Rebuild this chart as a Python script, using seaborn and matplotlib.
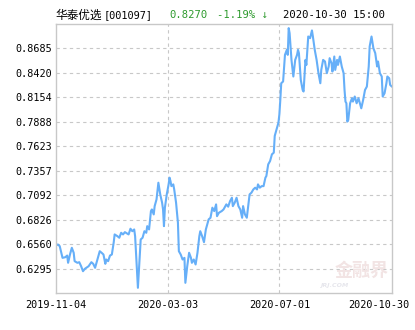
import numpy as np
import pandas as pd
import matplotlib
matplotlib.use("Agg")
import matplotlib.pyplot as plt
import matplotlib.transforms as mtransforms
import seaborn as sns

# ---- data ----
start_date = "2019-11-04"
end_date = "2020-10-30"
days = [0, 2, 4, 7, 10, 12, 13, 15, 17, 19, 20, 23, 25, 27, 29, 31, 35, 38, 40, 42,
        44, 47, 49, 51, 53, 54, 56, 58, 60, 62, 63, 66, 68, 70, 72, 74, 78, 80, 82, 84,
        85, 87, 88, 90, 91, 93, 95, 97, 98, 100, 102, 103, 105, 106, 108, 110, 112, 114, 115, 116,
        117, 119, 121, 122, 123, 124, 126, 127, 129, 131, 132, 134, 136, 138, 139, 141, 143, 145, 146, 148,
        150, 152, 154, 155, 157, 159, 161, 163, 164, 166, 168, 170, 172, 173, 175, 178, 180, 182, 183, 185,
        187, 189, 190, 192, 194, 196, 198, 200, 201, 203, 205, 207, 208, 210, 212, 214, 216, 217, 219, 221,
        223, 225, 226, 228, 230, 232, 234, 235, 237, 239, 240, 241, 242, 244, 246, 248, 249, 250, 251, 253,
        255, 257, 259, 260, 261, 263, 265, 266, 268, 269, 271, 273, 275, 276, 278, 280, 282, 284, 285, 287,
        289, 291, 293, 294, 296, 297, 299, 300, 302, 303, 305, 307, 309, 310, 311, 312, 313, 314, 316, 318,
        319, 321, 323, 325, 327, 328, 330, 332, 334, 336, 337, 339, 341, 343, 345, 346, 348, 350, 351, 353,
        355, 356, 358, 359, 361]
nav = [0.6548, 0.6559, 0.6541, 0.6414, 0.6421, 0.6439, 0.6360, 0.6450, 0.6523, 0.6469,
       0.6378, 0.6360, 0.6367, 0.6323, 0.6269, 0.6295, 0.6323, 0.6367, 0.6349, 0.6306,
       0.6378, 0.6486, 0.6469, 0.6450, 0.6349, 0.6396, 0.6378, 0.6439, 0.6450, 0.6581,
       0.6668, 0.6649, 0.6632, 0.6686, 0.6668, 0.6693, 0.6668, 0.6730, 0.6703, 0.6722,
       0.6649, 0.6287, 0.6089, 0.6432, 0.6613, 0.6632, 0.6703, 0.6686, 0.6758, 0.6722,
       0.6921, 0.6939, 0.6885, 0.6975, 0.7048, 0.7229, 0.7102, 0.7012, 0.6939, 0.6758,
       0.6958, 0.7102, 0.7211, 0.7284, 0.7247, 0.7192, 0.7211, 0.7156, 0.7012, 0.6795,
       0.6486, 0.6450, 0.6396, 0.6414, 0.6143, 0.6323, 0.6469, 0.6414, 0.6360, 0.6396,
       0.6342, 0.6469, 0.6649, 0.6703, 0.6649, 0.6584, 0.6722, 0.6795, 0.6831, 0.6849,
       0.6958, 0.6921, 0.6994, 0.6866, 0.6903, 0.6921, 0.6939, 0.6975, 0.6994, 0.6969,
       0.7029, 0.7066, 0.6975, 0.7012, 0.7066, 0.6975, 0.6939, 0.6849, 0.6975, 0.6885,
       0.6849, 0.7012, 0.7102, 0.7121, 0.7156, 0.7175, 0.7156, 0.7211, 0.7175, 0.7192,
       0.7192, 0.7284, 0.7301, 0.7428, 0.7464, 0.7537, 0.7555, 0.7736, 0.7808, 0.7881,
       0.7971, 0.8127, 0.8308, 0.8327, 0.8616, 0.8670, 0.8616, 0.8906, 0.8851, 0.8561,
       0.8381, 0.8561, 0.8616, 0.8670, 0.8634, 0.8344, 0.8235, 0.8218, 0.8561, 0.8507,
       0.8815, 0.8797, 0.8881, 0.8815, 0.8670, 0.8561, 0.8417, 0.8308, 0.8453, 0.8561,
       0.8544, 0.8417, 0.8490, 0.8580, 0.8525, 0.8435, 0.8598, 0.8453, 0.8561, 0.8507,
       0.8598, 0.8490, 0.8417, 0.8235, 0.8109, 0.8091, 0.7892, 0.7909, 0.8091, 0.8145,
       0.8109, 0.8164, 0.8091, 0.8145, 0.8072, 0.8036, 0.8127, 0.8235, 0.8272, 0.8490,
       0.8707, 0.8815, 0.8688, 0.8634, 0.8490, 0.8544, 0.8417, 0.8381, 0.8164, 0.8199,
       0.8308, 0.8381, 0.8362, 0.8290, 0.8270]
y_ticks = [0.6295, 0.6560, 0.6826, 0.7092, 0.7357, 0.7623, 0.7888, 0.8154, 0.8420, 0.8685]
x_tick_labels = ["2019-11-04", "2020-03-03", "2020-07-01", "2020-10-30"]
fund_name = "华泰优选"
fund_code = "[001097]"
last_nav = "0.8270"
change = "-1.19% ↓"
stamp = "2020-10-30 15:00"

# ---- figure ----
sns.set_style("white")
plt.rcParams["font.family"] = ["DejaVu Sans Mono", "Noto Sans CJK SC"]

df = pd.DataFrame({"date": pd.Timestamp(start_date) + pd.to_timedelta(days, unit="D"),
                   "nav": nav})

fig = plt.figure(figsize=(4.15, 3.30), dpi=100)
ax = fig.add_axes([56 / 415, 1 - 293.3 / 330, (392 - 56) / 415, (293.3 - 24) / 330])

sns.lineplot(data=df, x="date", y="nav", ax=ax, color="#66aff8", linewidth=1.5)

step = (y_ticks[-1] - y_ticks[0]) / (len(y_ticks) - 1)
ax.set_ylim(y_ticks[0] - step, y_ticks[-1] + step)
ax.set_xlim(pd.Timestamp(start_date), pd.Timestamp(end_date))
ax.set_yticks(y_ticks)
ax.set_yticklabels([f"{v:.4f}" for v in y_ticks])
xt = pd.to_datetime(x_tick_labels)
ax.set_xticks(xt)
ax.set_xticklabels(x_tick_labels)

grid_col = "#c8c8c8"
for v in y_ticks:
    ax.axhline(v, color=grid_col, linestyle=(0, (3, 3)), linewidth=0.8, zorder=0)
for d in xt[1:-1]:
    ax.axvline(d, color=grid_col, linestyle=(0, (3, 3)), linewidth=0.8, zorder=0)

for s in ax.spines.values():
    s.set_color("#c8c8c8")
    s.set_linewidth(1.0)
ax.tick_params(axis="both", length=0, labelsize=7.3, colors="black")
ax.tick_params(axis="x", pad=4.5)
ax.tick_params(axis="y", pad=2.5)
ax.set_xlabel("")
ax.set_ylabel("")

# shift last x label left so it stays inside the image
labs = ax.get_xticklabels()
labs[-1].set_transform(labs[-1].get_transform() +
                       mtransforms.ScaledTranslation(-13 / 100, 0, fig.dpi_scale_trans))

# title pieces
ty = 1 - 15.5 / 330
fig.text(55 / 415, ty, fund_name, family=["Noto Sans CJK SC"], fontsize=8.4, va="center", color="black")
fig.text(104 / 415, ty, fund_code, family=["DejaVu Sans Mono"], fontsize=7.4, va="center", color="black")
green = "#2e9a2e"
fig.text(169 / 415, ty, last_nav, family=["DejaVu Sans Mono"], fontsize=7.6, va="center", color=green)
fig.text(217 / 415, ty, change, family=["DejaVu Sans Mono"], fontsize=7.6, va="center", color=green)
fig.text(283 / 415, ty, stamp, family=["DejaVu Sans Mono"], fontsize=7.6, va="center", color="black")

# watermark
ax.text(0.99, 0.085, "金融界", transform=ax.transAxes, family=["Noto Sans CJK SC"],
        fontsize=13, fontweight="bold", color="#f2e4e4", ha="right", va="center", zorder=1)
ax.text(0.87, 0.03, "JRJ.COM", transform=ax.transAxes, family=["DejaVu Sans"],
        fontsize=4.5, style="italic", fontweight="bold", color="#e6e6ec", ha="right", va="center", zorder=1)

fig.savefig("out.png", dpi=100)
